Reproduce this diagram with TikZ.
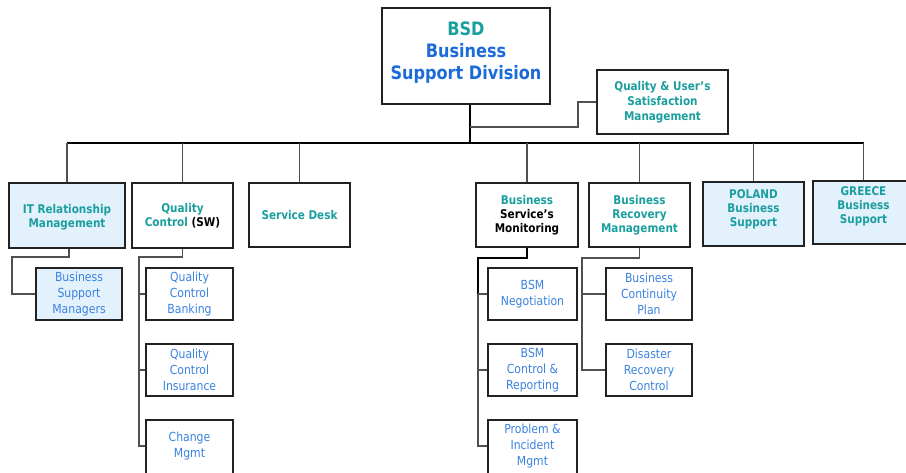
\documentclass[tikz,border=0pt]{standalone}
\usepackage{fontspec}
\setmainfont[FakeStretch=0.87]{DejaVu Sans}
\definecolor{tealtxt}{HTML}{1A9E9E}
\definecolor{titleblue}{HTML}{1B6BD8}
\definecolor{unitblue}{HTML}{3A82E0}
\definecolor{paleblue}{HTML}{E3F1FC}
\definecolor{frame}{HTML}{222222}
\definecolor{wire}{HTML}{505050}
\tikzset{
  box/.style={draw=frame, line width=1.2pt, fill=white, inner sep=0pt, align=center},
  pale/.style={fill=paleblue},
  head/.style={box, text=tealtxt, font=\fontsize{12}{14}\selectfont\bfseries},
  unit/.style={box, text=unitblue, font=\fontsize{12.5}{16}\selectfont},
  wires/.style={draw=wire, line width=1.2pt},
  mainwire/.style={draw=black, line width=1.6pt}
}
\begin{document}
\begin{tikzpicture}[x=1pt,y=-1pt]
\useasboundingbox (0,0) rectangle (906,472);
\clip (0,0) rectangle (906,472);

% top of the tree
\node[box, minimum width=168, minimum height=96, font=\fontsize{18.5}{22}\selectfont\bfseries, text depth=11pt] (bsd) at (466,56)
  {\textcolor{tealtxt}{BSD}\\\textcolor{titleblue}{Business}\\\textcolor{titleblue}{Support Division}};
\node[head, minimum width=131, minimum height=64, font=\fontsize{12}{15}\selectfont\bfseries] (qus) at (662.5,102)
  {Quality \& User’s\\Satisfaction\\Management};

% second level
\node[head, pale, minimum width=116, minimum height=65, text depth=0pt] (itr) at (67,215.5) {IT Relationship\\Management};
\node[head, minimum width=101, minimum height=65] (qcs) at (182.5,215.5) {Quality\\Control \textcolor{black}{(SW)}};
\node[head, minimum width=101, minimum height=64] (sd) at (299.5,215) {Service Desk};
\node[head, minimum width=102, minimum height=64] (bsm) at (527,215) {Business\\\textcolor{black}{Service’s}\\\textcolor{black}{Monitoring}};
\node[head, minimum width=101, minimum height=64] (brm) at (639.5,215) {Business\\Recovery\\Management};
\node[head, pale, minimum width=101, minimum height=64, text depth=11pt] (pl) at (753.5,214) {POLAND\\Business\\Support};
\node[head, pale, minimum width=101, minimum height=63, text depth=15pt] (gr) at (863.5,212.5) {GREECE\\Business\\Support};

% third level (the last row runs past the lower edge)
\node[unit, pale, minimum width=86, minimum height=52] (bsmg) at (79,294) {Business\\Support\\Managers};
\node[unit, minimum width=87, minimum height=52] (qcb) at (189.5,294) {Quality\\Control\\Banking};
\node[unit, minimum width=87, minimum height=52] (qci) at (189.5,370) {Quality\\Control\\Insurance};
\node[unit, minimum width=87, minimum height=58, text depth=8.7pt] (cm) at (189.5,449) {Change\\Mgmt};
\node[unit, minimum width=89, minimum height=52] (neg) at (532.5,294) {BSM\\Negotiation};
\node[unit, minimum width=89, minimum height=52] (ctl) at (532.5,370) {BSM\\Control \&\\Reporting};
\node[unit, minimum width=89, minimum height=58, text depth=8.7pt] (pim) at (532.5,449) {Problem \&\\Incident\\Mgmt};
\node[unit, minimum width=86, minimum height=52] (bcp) at (649,294) {Business\\Continuity\\Plan};
\node[unit, minimum width=86, minimum height=52] (drc) at (649,370) {Disaster\\Recovery\\Control};

% routing points
\coordinate (bus) at (470,143);
\coordinate (qtap) at (470,127);
\coordinate (qbend) at (578,127);
\coordinate (itrbend) at (12,257);
\coordinate (qcbend) at (139,257);
\coordinate (bsmbend) at (478,258);
\coordinate (brmbend) at (582,258);
\coordinate (lastrow) at (0,446);

% connectors
\path[mainwire] ([xshift=4pt]bsd.south) -- (bus);
\path[wires] (qtap) -- (qbend) |- (qus.west);
\path[mainwire] (itr.north |- bus) -- (gr.north |- bus);
\foreach \n in {itr,qcs,sd,bsm,brm,pl,gr}
  \path[wires] (\n.north |- bus) -- (\n.north);

\path[wires] ([xshift=2pt]itr.south) |- (itrbend) |- (bsmg.west);
\path[wires] (qcs.south) |- (qcbend) |- (cm.west |- lastrow);
\path[wires] (qcbend |- qcb.west) -- (qcb.west);
\path[wires] (qcbend |- qci.west) -- (qci.west);
\path[mainwire] (bsm.south) |- (bsmbend) -- (bsmbend |- neg.west);
\path[wires] (bsmbend |- neg.west) |- (pim.west |- lastrow);
\path[wires] (bsmbend |- neg.west) -- (neg.west);
\path[wires] (bsmbend |- ctl.west) -- (ctl.west);
\path[wires] (brm.south) |- (brmbend) |- (drc.west);
\path[wires] (brmbend |- bcp.west) -- (bcp.west);
\end{tikzpicture}
\end{document}
